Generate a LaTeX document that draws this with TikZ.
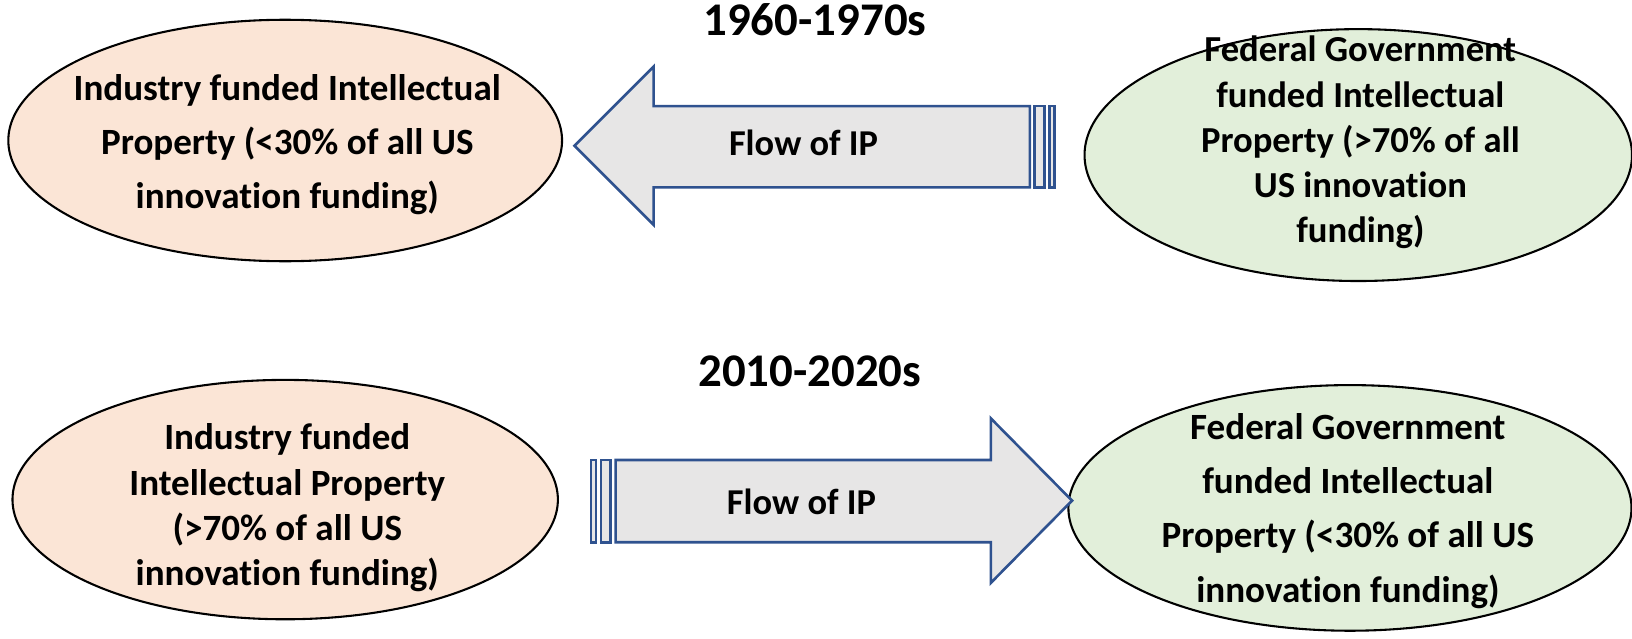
\documentclass[tikz,border=0pt]{standalone}
\usepackage{fontspec}
\setmainfont{Carlito}[Ligatures={NoCommon,NoRare}]
\usetikzlibrary{shapes.geometric}
\definecolor{peach}{HTML}{FBE5D6}
\definecolor{mint}{HTML}{E2EFDA}
\definecolor{arrowfill}{HTML}{E7E6E6}
\definecolor{arrowline}{HTML}{2F528F}
\tikzset{
  ell/.style={ellipse, draw=black, line width=1pt, inner sep=0pt},
  etext/.style={align=center, font=\bfseries\fontsize{#1}{26}\selectfont},
  etextb/.style={align=center, font=\bfseries\fontsize{#1}{21.75}\selectfont},
  flowlabel/.style={font=\bfseries\fontsize{17.5}{21}\selectfont},
  titlelabel/.style={font=\bfseries\fontsize{22.5}{27}\selectfont},
  arrowbody/.style={fill=arrowfill, draw=arrowline, line width=1.25pt, line join=miter}
}
\begin{document}
\begin{tikzpicture}[x=0.5pt, y=-0.5pt]
\useasboundingbox (0,0) rectangle (1568,613);
% titles
\node[titlelabel] (t1) at (783,19) {1960-1970s};
\node[titlelabel] (t2) at (778,357) {2010-2020s};
% top row ellipses
\node[ell, fill=peach, minimum width=266pt, minimum height=116pt] (tl) at (274,135) {};
\node[etext=17.8] (tlT) at (276,139) {Industry funded Intellectual\\Property (<30\% of all US\\innovation funding)};
\node[ell, fill=mint, minimum width=263pt, minimum height=121pt] (tr) at (1305,149) {};
\node[etextb=17.6] (trT) at (1307,137) {Federal Government\\funded Intellectual\\Property (>70\% of all\\US innovation\\funding)};
% bottom row ellipses
\node[ell, fill=peach, minimum width=262pt, minimum height=115pt] (bl) at (274,480) {};
\node[etextb=17.8] (blT) at (276,488) {Industry funded\\Intellectual Property\\(>70\% of all US\\innovation funding)};
\node[ell, fill=mint, minimum width=270.5pt, minimum height=118pt] (br) at (1297,488) {};
\node[etext=17.8] (brT) at (1295,491) {Federal Government\\funded Intellectual\\Property (<30\% of all US\\innovation funding)};
% top striped arrow (pointing left)
\draw[arrowbody] (552,140) -- (628,64) -- (628,102) -- (989.5,102) -- (989.5,180) -- (628,180) -- (628,216) -- cycle;
\draw[arrowbody] (994.2,102) rectangle (1003.6,180);
\draw[arrowbody] (1008.3,102) rectangle (1013,180);
\node[flowlabel] (f1) at (772,137) {Flow of IP};
% bottom striped arrow (pointing right)
\draw[arrowbody] (1030,481) -- (952,402) -- (952,442) -- (591.5,442) -- (591.5,521) -- (952,521) -- (952,560) -- cycle;
\draw[arrowbody] (577.4,442) rectangle (586.8,521);
\draw[arrowbody] (568,442) rectangle (572.7,521);
\node[flowlabel] (f2) at (770,482) {Flow of IP};
\end{tikzpicture}
\end{document}
